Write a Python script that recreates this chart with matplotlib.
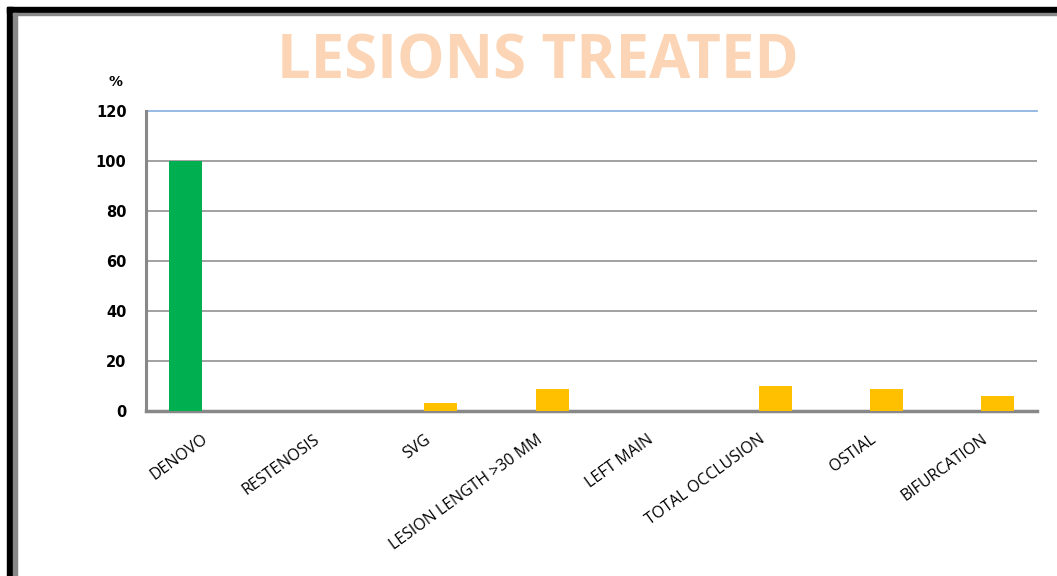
import matplotlib.pyplot as plt
from matplotlib.patches import Rectangle
import numpy as np

categories = ['DENOVO', 'RESTENOSIS', 'SVG', 'LESION LENGTH >30 MM', 'LEFT MAIN',
              'TOTAL OCCLUSION', 'OSTIAL', 'BIFURCATION']
denovo_vals = [100, 0, 0, 0, 0, 0, 0, 0]
other_vals = [0, 0, 3, 8.6, 0, 9.8, 8.6, 5.8]
yticks = [0, 20, 40, 60, 80, 100, 120]

fig = plt.figure(figsize=(10.57, 5.76), dpi=100)
ax = fig.add_axes([0.1381, 0.2873, 0.843, 0.52])

x = np.arange(len(categories))
w = 0.296
ax.bar(x - w / 2, denovo_vals, width=w, color='#00B050', zorder=3)
ax.bar(x + w / 2, other_vals, width=w, color='#FFC000', zorder=3)

ax.set_xlim(-0.5, len(categories) - 0.5)
ax.set_ylim(0, 120)
ax.set_yticks(yticks)
ax.set_yticklabels([str(v) for v in yticks], fontsize=10.5, fontweight='bold')
ax.tick_params(axis='y', length=0, pad=14)
ax.tick_params(axis='x', length=0, pad=15)
ax.set_xticks(x)
ax.set_xticklabels(categories, rotation=36, ha='right', rotation_mode='anchor',
                   fontsize=11.5, family='Open Sans')

for v in yticks[1:-1]:
    ax.axhline(v, color='#888888', lw=1.1, zorder=1)
ax.axhline(120, color='#8DB4E2', lw=1.3, zorder=1, clip_on=False)

for s in ['top', 'right']:
    ax.spines[s].set_visible(False)
ax.spines['left'].set_color('#888888')
ax.spines['left'].set_linewidth(2.2)
ax.spines['bottom'].set_color('#888888')
ax.spines['bottom'].set_linewidth(2.5)

fig.text(0.109, 0.858, '%', fontsize=10, fontweight='bold', ha='center', va='center')
fig.text(0.509, 0.89, 'LESIONS TREATED', fontsize=43, fontweight='bold',
         color='#FBD5B5', ha='center', va='center', family='Open Sans')

# frame
W, H = 1057, 576
fig.patches.append(Rectangle((7 / W, 0), 6 / W, 1 - 7 / H, transform=fig.transFigure,
                             color='black', zorder=5))
fig.patches.append(Rectangle((7 / W, 1 - 13 / H), 1 - 7 / W, 6 / H, transform=fig.transFigure,
                             color='black', zorder=5))
fig.patches.append(Rectangle((13 / W, 0), 4 / W, 1 - 13 / H, transform=fig.transFigure,
                             color='#888888', zorder=5))
fig.patches.append(Rectangle((13 / W, 1 - 15 / H), 1 - 13 / W, 2 / H, transform=fig.transFigure,
                             color='#888888', zorder=5))

fig.savefig('out.png', dpi=100)
